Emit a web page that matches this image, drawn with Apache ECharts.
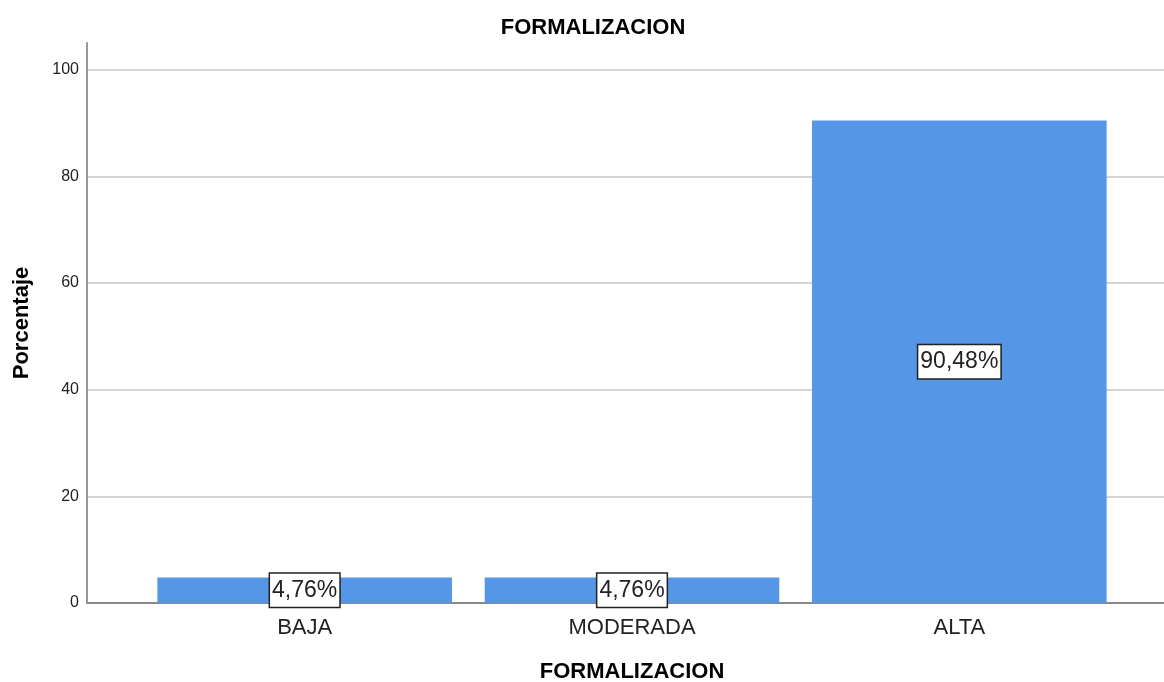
<!DOCTYPE html>
<html>
<head>
<meta charset="utf-8">
<script src="https://cdn.jsdelivr.net/npm/echarts@6/dist/echarts.min.js"></script>
<style>
html,body{margin:0;padding:0;background:#fff;}
#c{width:1164px;height:682px;}
</style>
</head>
<body>
<div id="c"></div>
<script>
const categories = ['BAJA', 'MODERADA', 'ALTA'];
const percentages = [4.76, 4.76, 90.48];
const chartTitle = 'FORMALIZACION';
const xAxisName = 'FORMALIZACION';
const yAxisName = 'Porcentaje';
const yTicks = { min: 0, max: 105, interval: 20 };

const FONT = 'Liberation Sans, Arial, sans-serif';
const chart = echarts.init(document.getElementById('c'));
chart.setOption({
  animation: false,
  backgroundColor: '#ffffff',
  textStyle: { fontFamily: FONT },
  title: {
    text: chartTitle,
    left: 588,
    textAlign: 'center',
    top: 12,
    textStyle: { fontSize: 22, fontWeight: 'bold', color: '#000', fontFamily: FONT }
  },
  grid: [
    { left: 87, right: 0, top: 43, bottom: 79, containLabel: false, outerBoundsMode: 'none' },
    { left: 141, width: 982, top: 43, bottom: 79, containLabel: false, outerBoundsMode: 'none' }
  ],
  xAxis: [
    {
      type: 'value', gridIndex: 0, min: 0, max: 1,
      axisLine: { show: true, onZero: false, lineStyle: { color: '#888888', width: 2 } },
      axisTick: { show: false }, axisLabel: { show: false }, splitLine: { show: false }
    },
    {
      type: 'category', gridIndex: 1,
      data: categories,
      name: xAxisName,
      nameLocation: 'middle',
      nameGap: 58,
      nameTextStyle: { fontSize: 22, fontWeight: 'bold', color: '#000' },
      axisLine: { show: false },
      axisTick: { show: false },
      axisLabel: { fontSize: 22, color: '#222', margin: 14 },
      splitLine: { show: false }
    }
  ],
  yAxis: [
    {
      type: 'value', gridIndex: 0,
      min: yTicks.min, max: yTicks.max, interval: yTicks.interval,
      name: yAxisName,
      nameLocation: 'middle',
      nameGap: 54,
      nameTextStyle: { fontSize: 22, fontWeight: 'bold', color: '#000' },
      axisLine: { show: true, lineStyle: { color: '#999999', width: 2 } },
      axisTick: { show: false },
      axisLabel: { fontSize: 16, color: '#222', margin: 8, showMaxLabel: false },
      splitLine: { show: true, showMaxLine: false, lineStyle: { color: '#d4d4d4', width: 2 } }
    },
    {
      type: 'value', gridIndex: 1,
      min: yTicks.min, max: yTicks.max, interval: yTicks.interval,
      show: false, splitLine: { show: false }
    }
  ],
  series: [{
    type: 'bar',
    xAxisIndex: 1,
    yAxisIndex: 1,
    data: percentages,
    barWidth: '90%',
    itemStyle: { color: '#5596e6' },
    label: {
      show: true,
      position: 'inside',
      formatter: p => p.value.toFixed(2).replace('.', ',') + '%',
      fontSize: 23,
      color: '#222',
      backgroundColor: '#ffffff',
      borderColor: '#222',
      borderWidth: 1.5,
      padding: [6, 2, 4, 2]
    }
  }]
});
</script>
</body>
</html>
